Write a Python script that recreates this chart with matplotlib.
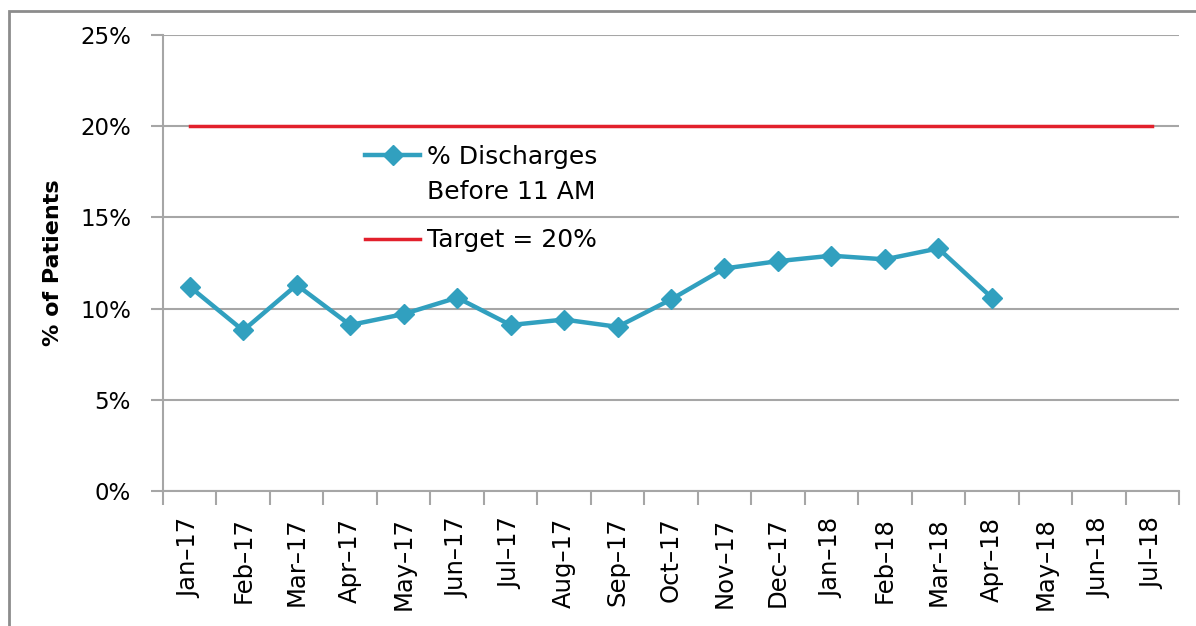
import numpy as np
import matplotlib.pyplot as plt
from matplotlib.patches import Rectangle

# Data
months = ['Jan–17', 'Feb–17', 'Mar–17', 'Apr–17', 'May–17', 'Jun–17', 'Jul–17', 'Aug–17',
          'Sep–17', 'Oct–17', 'Nov–17', 'Dec–17', 'Jan–18', 'Feb–18', 'Mar–18', 'Apr–18',
          'May–18', 'Jun–18', 'Jul–18']
discharges = [11.2, 8.8, 11.3, 9.1, 9.7, 10.6, 9.1, 9.4, 9.0, 10.5,
              12.2, 12.6, 12.9, 12.7, 13.3, 10.6]
target = [20] * len(months)

plt.rcParams['font.family'] = ['DejaVu Sans']

fig = plt.figure(figsize=(11.96, 6.26), dpi=100)
ax = fig.add_axes([163 / 1196, 1 - 491 / 626, (1179 - 163) / 1196, (491 - 35) / 626])

# outer frame
fig.patches.append(Rectangle((9 / 1196, -0.1), 1.2, 1 - 11 / 626 + 0.1,
                             transform=fig.transFigure, fill=False,
                             edgecolor='#8c8c8c', linewidth=2))

x = np.arange(len(months))
ax.plot(x[:len(discharges)], discharges, color='#31a0bf', linewidth=3.2,
        marker='D', markersize=10, label='% Discharges', zorder=3)
ax.plot(x, target, color='#e2202c', linewidth=2.5,
        label='Target = 20%', zorder=2)

ax.set_xlim(-0.5, len(months) - 0.5)
ax.set_ylim(0, 25)
ax.set_yticks(range(0, 26, 5))
ax.set_yticklabels([f'{v}%' for v in range(0, 26, 5)], fontsize=16.5)
ax.yaxis.grid(True, color='#a6a6a6', linewidth=1.5)
ax.set_axisbelow(True)

ax.set_xticks(x)
ax.set_xticklabels(months, rotation=90, fontsize=17.5)
ax.set_xticks(np.arange(-0.5, len(months)), minor=True)
ax.tick_params(axis='x', which='major', length=0, pad=19)
ax.tick_params(axis='x', which='minor', length=10, width=1.5, color='#a6a6a6')
ax.tick_params(axis='y', length=9, width=1.5, color='#a6a6a6', pad=14)

for side in ['top', 'right']:
    ax.spines[side].set_visible(False)
for side in ['left', 'bottom']:
    ax.spines[side].set_color('#a6a6a6')
    ax.spines[side].set_linewidth(1.5)

ax.set_ylabel('% of Patients', fontsize=16, fontweight='bold', labelpad=12)

ax.legend(loc='upper left', bbox_to_anchor=(0.199, 0.759), frameon=False,
          fontsize=18, handlelength=2.2, handletextpad=0.28, labelspacing=2.38,
          borderpad=0, borderaxespad=0)
ax.text(0.26, 0.656, 'Before 11 AM', transform=ax.transAxes, fontsize=18,
        va='center', ha='left')

fig.savefig('out.png', dpi=100)
